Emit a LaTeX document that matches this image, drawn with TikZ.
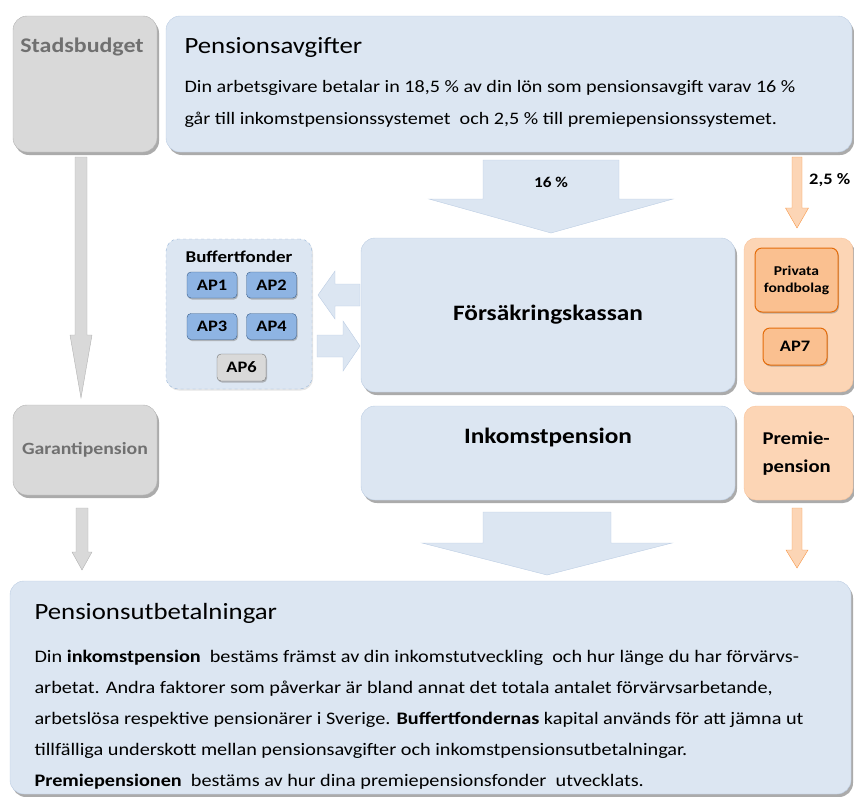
\documentclass[tikz,border=0pt]{standalone}
\usepackage{fontspec}
\setmainfont[FakeStretch=1.15]{Carlito}
\usetikzlibrary{shadows,calc,positioning}
\definecolor{boxblue}{HTML}{DCE6F2}
\definecolor{boxline}{HTML}{BCCDE3}
\definecolor{dashline}{HTML}{95B3D7}
\definecolor{greyfill}{HTML}{D9D9D9}
\definecolor{greyline}{HTML}{B2B2B2}
\definecolor{greytext}{HTML}{707070}
\definecolor{orangefill}{HTML}{FCD5B5}
\definecolor{orangeline}{HTML}{F9C39A}
\definecolor{orangedark}{HTML}{E46C0A}
\definecolor{orangemid}{HTML}{FAC090}
\definecolor{orangearrowline}{HTML}{F79646}
\definecolor{apfill}{HTML}{8EB4E3}
\definecolor{apline}{HTML}{385D8A}

\begin{document}
\begin{tikzpicture}[x=1pt,y=-1pt,
  shadowed/.style={drop shadow={shadow xshift=2pt,shadow yshift=-3pt,fill=black!60,opacity=.55}},
  bigbox/.style={draw=boxline, fill=boxblue, rounded corners=14pt, inner sep=0pt, shadowed},
  greybox/.style={draw=greyline, fill=greyfill, rounded corners=14pt, inner sep=0pt, shadowed},
  orangebox/.style={draw=orangeline, fill=orangefill, rounded corners=12pt, inner sep=0pt, shadowed},
  innerbox/.style={draw=orangedark, line width=1pt, fill=orangemid, rounded corners=7pt, inner sep=0pt,
    drop shadow={shadow xshift=1pt,shadow yshift=-1.5pt,fill=black!50,opacity=.5}},
  apbox/.style={draw=apline, fill=apfill, rounded corners=4pt, inner sep=0pt,
    minimum width=50pt, minimum height=26pt, font=\fontsize{16}{18}\selectfont\bfseries,
    drop shadow={shadow xshift=1pt,shadow yshift=-1.5pt,fill=black!50,opacity=.5}},
  greyarrow/.style={draw=greyline, fill=greyfill},
  orangearrow/.style={draw=orangearrowline, fill=orangefill},
  bigarrow/.style={draw=boxline, fill=boxblue}]
\useasboundingbox (0,0) rectangle (854,796);

% block arrow: from, to, shaft half width, head half width, head length, style
\def\blockarrow#1#2#3#4#5#6{%
  \path ($(#2)!#5pt!(#1)$) coordinate (nk);
  \path[#6] ($(#1)!#3pt!90:(#2)$) -- ($(nk)!#3pt!90:(#2)$) -- ($(nk)!#4pt!90:(#2)$)
    -- (#2) -- ($(nk)!#4pt!-90:(#2)$) -- ($(nk)!#3pt!-90:(#2)$) -- ($(#1)!#3pt!-90:(#2)$) -- cycle;}

% top row
\node[greybox, minimum width=144pt, minimum height=136pt] (sb) at (85,84) {};
\node[text=greytext, font=\fontsize{20.8}{24}\selectfont\bfseries] (sb-text) at (82,47) {Stadsbudget};
\node[bigbox, minimum width=686pt, minimum height=136pt] (pa) at (509,84) {};
\node[anchor=west, font=\fontsize{23.3}{27}\selectfont] (pa-title) at (181,47) {Pensionsavgifter};
\node[anchor=west, align=left, font=\fontsize{17.5}{32}\selectfont] (pa-text) at (181,104)
  {Din arbetsgivare betalar in 18,5 \% av din lön som pensionsavgift varav 16 \%\\
   går till inkomstpensionssystemet \ och 2,5 \% till premiepensionssystemet.};

% middle row
\node[draw=dashline, dashed, fill=boxblue, rounded corners=12pt, minimum width=146pt, minimum height=150pt,
  drop shadow={shadow xshift=1pt,shadow yshift=-1.5pt,fill=black!25,opacity=.4}] (bf) at (239,314) {};
\node[font=\fontsize{16.5}{18}\selectfont\bfseries] (bf-title) at (239,257) {Buffertfonder};
\node[apbox] (ap1) at (212,285) {AP1};
\node[apbox] (ap2) at (271.5,285) {AP2};
\node[apbox] (ap3) at (212,326.5) {AP3};
\node[apbox] (ap4) at (271.5,326.5) {AP4};
\node[apbox, draw=black!55, fill=greyfill, minimum width=49pt, minimum height=27pt] (ap6) at (241.5,367.5) {AP6};

\node[bigbox, minimum width=374pt, minimum height=154pt] (fk) at (548,315)
  {\fontsize{22}{26}\selectfont\bfseries Försäkringskassan};
\node[orangebox, minimum width=109pt, minimum height=154pt] (or) at (798.5,315) {};
\node[innerbox, minimum width=83pt, minimum height=64pt, align=center,
  font=\fontsize{13.5}{17}\selectfont\bfseries] (pf) at (796.5,280) {Privata\\fondbolag};
\node[innerbox, minimum width=64pt, minimum height=37pt,
  font=\fontsize{16}{18}\selectfont\bfseries] (ap7) at (795,346.5) {AP7};

% lower row
\node[greybox, minimum width=144pt, minimum height=90pt, text=greytext,
  font=\fontsize{17.2}{20}\selectfont\bfseries] (gp) at (85,450) {Garantipension};
\node[bigbox, minimum width=374pt, minimum height=94pt] (ip) at (548,453) {};
\node[font=\fontsize{22}{26}\selectfont\bfseries] (ip-text) at (548,438) {Inkomstpension};
\node[orangebox, minimum width=109pt, minimum height=94pt] (pp) at (798.5,453) {};
\node[anchor=west, align=left, font=\fontsize{18}{28}\selectfont\bfseries] (pp-text) at (759,454) {Premie-\\pension};

% bottom box
\node[bigbox, minimum width=841pt, minimum height=213pt] (pu) at (430.5,687.5) {};
\node[anchor=west, font=\fontsize{23.3}{27}\selectfont] (pu-title) at (31,613) {Pensionsutbetalningar};
\node[anchor=west, align=left, font=\fontsize{17.6}{31}\selectfont] (pu-text) at (31,720)
  {Din \textbf{inkomstpension} \ bestäms främst av din inkomstutveckling \ och hur länge du har förvärvs-\\
   arbetat. Andra faktorer som påverkar är bland annat det totala antalet förvärvsarbetande,\\
   arbetslösa respektive pensionärer i Sverige. \textbf{Buffertfondernas} kapital används för att jämna ut\\
   tillfälliga underskott mellan pensionsavgifter och inkomstpensionsutbetalningar.\\
   \textbf{Premiepensionen} \ bestäms av hur dina premiepensionsfonder \ utvecklats.};

% arrow ends
\coordinate (sb-a) at (81,157);  \coordinate (gp-a) at (81,398);
\coordinate (pa-a) at (551,160); \coordinate (fk-a) at (551,233);
\coordinate (pa-b) at (797,157); \coordinate (or-a) at (797,228);
\coordinate (fk-l) at (360,295); \coordinate (bf-l) at (318,295);
\coordinate (bf-r) at (317,346); \coordinate (fk-r) at (360,346);
\coordinate (gp-b) at (82,508);  \coordinate (pu-a) at (82,570);
\coordinate (ip-a) at (547,512); \coordinate (pu-b) at (547,575);
\coordinate (pp-a) at (797,508); \coordinate (pu-c) at (797,568);

\blockarrow{sb-a}{gp-a}{6}{11}{63}{greyarrow}
\blockarrow{pa-a}{fk-a}{68}{122}{34}{bigarrow}
\blockarrow{pa-b}{or-a}{5}{11.5}{20}{orangearrow}
\blockarrow{fk-l}{bf-l}{11}{24}{17}{bigarrow}
\blockarrow{bf-r}{fk-r}{11}{25}{17}{bigarrow}
\blockarrow{gp-b}{pu-a}{6}{10}{18}{greyarrow}
\blockarrow{ip-a}{pu-b}{64}{125}{32}{bigarrow}
\blockarrow{pp-a}{pu-c}{5}{11}{18}{orangearrow}

\node[font=\fontsize{15}{17}\selectfont\bfseries] (pct16) at (551,182) {16 \%};
\node[anchor=west, font=\fontsize{16}{18}\selectfont\bfseries, inner sep=0pt] (pct25) at (809,180) {2,5 \%};
\end{tikzpicture}
\end{document}
